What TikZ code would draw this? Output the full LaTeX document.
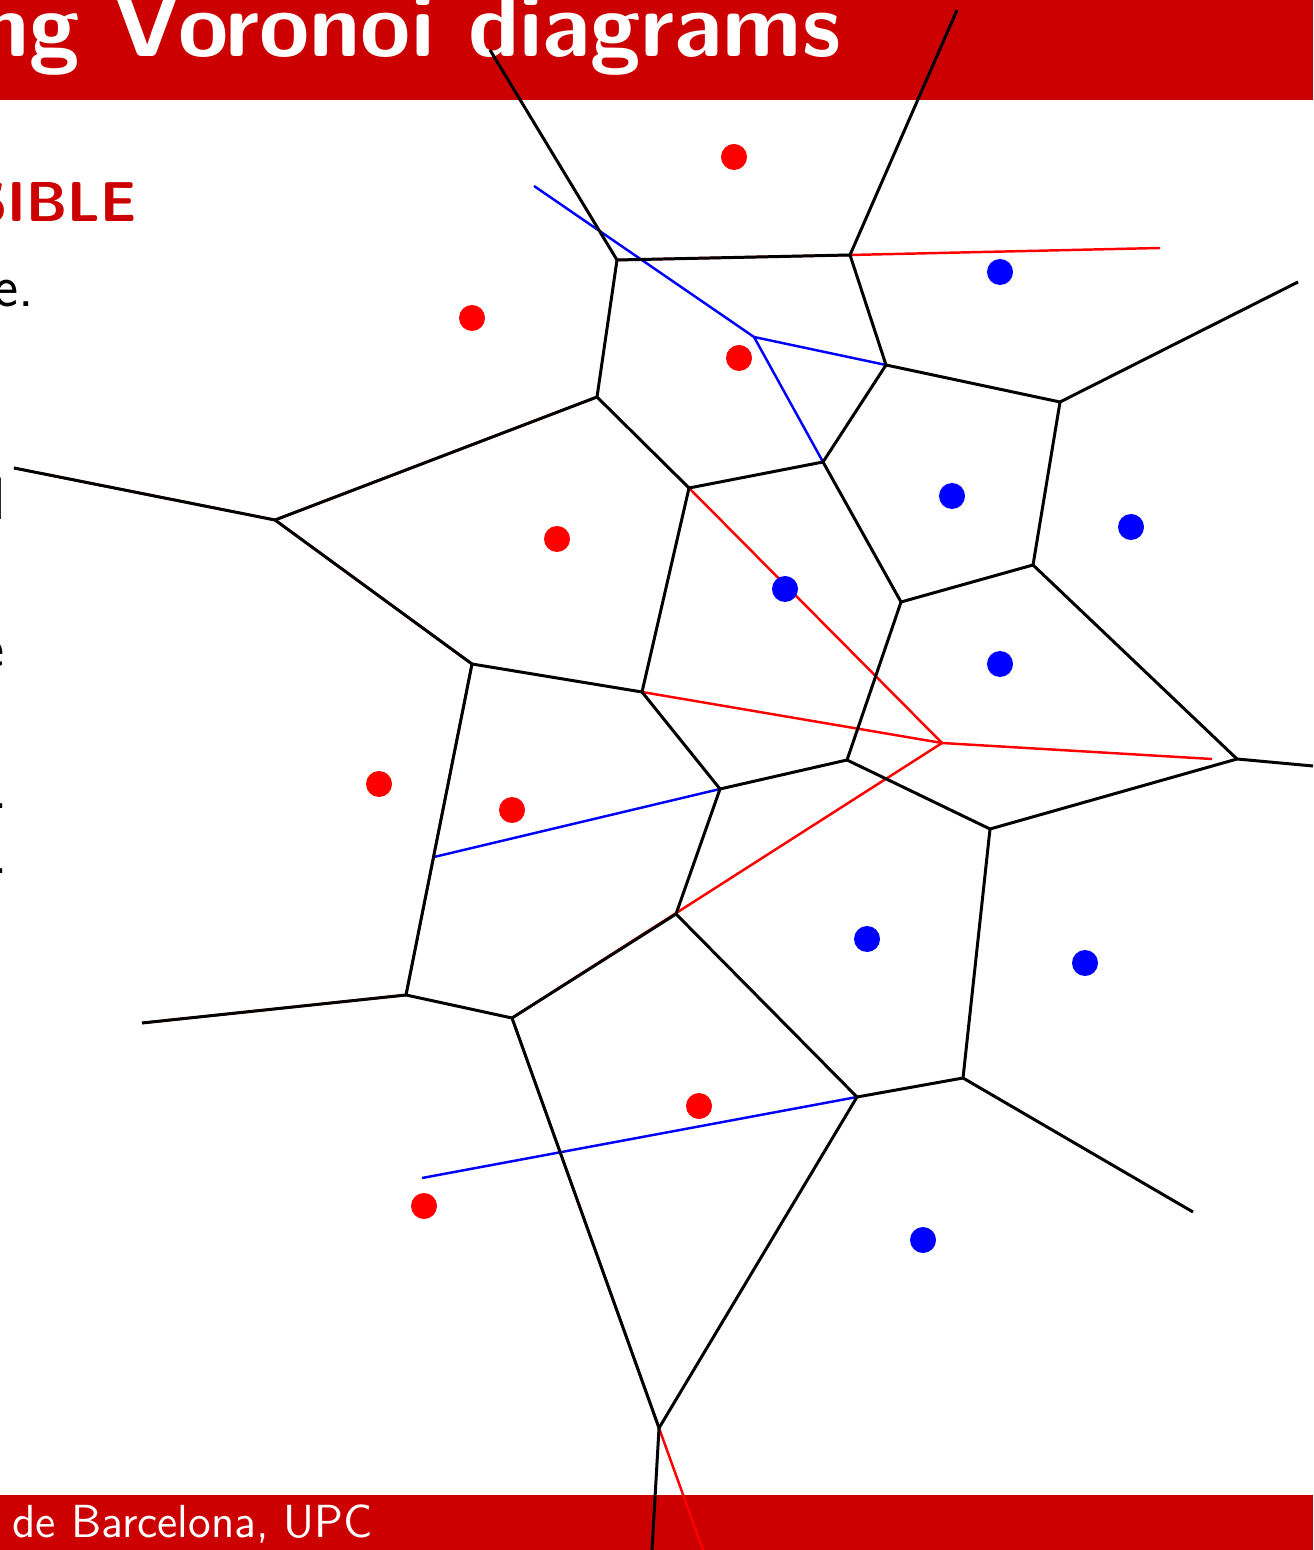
\documentclass[tikz,border=0pt]{standalone}
\usepackage{xcolor}
\usepackage{tikz}

\definecolor{upcred}{RGB}{204,0,0}

\begin{document}
\begin{tikzpicture}[x=0.1mm, y=-0.1mm,
  vedge/.style={line width=0.85pt, black},
  redln/.style={line width=0.7pt, red},
  blueln/.style={line width=0.7pt, blue},
  rsite/.style={circle, fill=red, inner sep=0pt, minimum size=2.6mm},
  bsite/.style={circle, fill=blue, inner sep=0pt, minimum size=2.6mm},
  frag/.style={inner sep=0pt, font=\sffamily\fontsize{17}{20}\selectfont},
]
\useasboundingbox (0,0) rectangle (1313,1550);
\clip (0,0) rectangle (1313,1550);

% slide bars
\fill[upcred] (0,0) rectangle (1313,100);
\fill[upcred] (0,1495) rectangle (1313,1550);

\node[inner sep=0pt, anchor=base west, text=white,
      font=\sffamily\bfseries\fontsize{26}{30}\selectfont] (title) at (-22,57) {ng Voronoi diagrams};
\node[inner sep=0pt, anchor=base east, text=upcred,
      font=\sffamily\bfseries\fontsize{16}{19}\selectfont] (head) at (137,222) {SIBLE};
\node[frag, anchor=base east] (t1) at (35,307) {e.};
\node[frag, anchor=base east] (t2) at (6.5,520) {l};
\node[frag, anchor=base east] (t3) at (5,668) {e};
\node[frag, anchor=base east] (t4) at (8.5,808) {.};
\node[frag, anchor=base east] (t5) at (8.5,873) {.};
\node[inner sep=0pt, anchor=base west, text=white,
      font=\sffamily\fontsize{13.2}{15}\selectfont] (foot) at (12,1537) {de Barcelona, UPC};

% Voronoi vertices
\coordinate (A) at (617,260);
\coordinate (B) at (850,255);
\coordinate (C) at (886,365);
\coordinate (D) at (1060,402);
\coordinate (E) at (1033,565);
\coordinate (F) at (901,602);
\coordinate (G) at (823,462);
\coordinate (H) at (689,488);
\coordinate (I) at (597,397);
\coordinate (J) at (275,520);
\coordinate (K) at (472,664);
\coordinate (L) at (642,692);
\coordinate (M) at (720,789);
\coordinate (N) at (847,760);
\coordinate (O) at (990,829);
\coordinate (P) at (1237,759);
\coordinate (Q) at (963,1078);
\coordinate (R) at (857,1097);
\coordinate (S) at (676,914);
\coordinate (T) at (512,1018);
\coordinate (U) at (406,995);
\coordinate (V) at (659,1428);
\coordinate (X) at (942,743);
\coordinate (Y) at (754,337);
% ends of unbounded edges
\coordinate (eA) at (490,50);
\coordinate (eB) at (957,10);
\coordinate (eD) at (1298,282);
\coordinate (eJ) at (14,468);
\coordinate (eP) at (1313,766);
\coordinate (eQ) at (1193,1212);
\coordinate (eU) at (142,1023);
\coordinate (eV) at (652,1550);
\coordinate (rB) at (1160,248);
\coordinate (rX) at (1212,759);
\coordinate (rV) at (703,1550);
\coordinate (bY) at (534,186);
\coordinate (bM) at (434,857);
\coordinate (bR) at (422,1178);

% red diagram
\foreach \a/\b in {A/B, B/rB, I/J, J/eJ, J/K, K/U, U/eU, T/V, V/rV,
                   H/X, L/X, X/rX, X/T}{ \draw[redln] (\a) -- (\b); }
% blue diagram
\foreach \a/\b in {bY/Y, Y/C, Y/G, bM/M, bR/R}{ \draw[blueln] (\a) -- (\b); }
% merged diagram
\foreach \a/\b in {A/B, A/eA, B/eB, B/C, C/D, D/eD, D/E, E/F, F/G, G/C,
                   G/H, H/I, I/A, I/J, J/eJ, J/K, K/L, L/H, L/M, M/N,
                   N/F, N/O, O/P, P/E, P/eP, O/Q, Q/eQ, Q/R, R/S, S/M,
                   S/T, T/U, U/K, U/eU, T/V, V/R, V/eV}{ \draw[vedge] (\a) -- (\b); }

% sites
\node[rsite] (r1) at (734,157) {};
\node[rsite] (r2) at (472,318) {};
\node[rsite] (r3) at (739,358) {};
\node[rsite] (r4) at (557,539) {};
\node[rsite] (r5) at (379,784) {};
\node[rsite] (r6) at (512,810) {};
\node[rsite] (r7) at (699,1106) {};
\node[rsite] (r8) at (424,1206) {};

\node[bsite] (b1) at (1000,272) {};
\node[bsite] (b2) at (952,496) {};
\node[bsite] (b3) at (1131,527) {};
\node[bsite] (b4) at (785,589) {};
\node[bsite] (b5) at (1000,664) {};
\node[bsite] (b6) at (867,939) {};
\node[bsite] (b7) at (1085,963) {};
\node[bsite] (b8) at (923,1240) {};
\end{tikzpicture}
\end{document}
